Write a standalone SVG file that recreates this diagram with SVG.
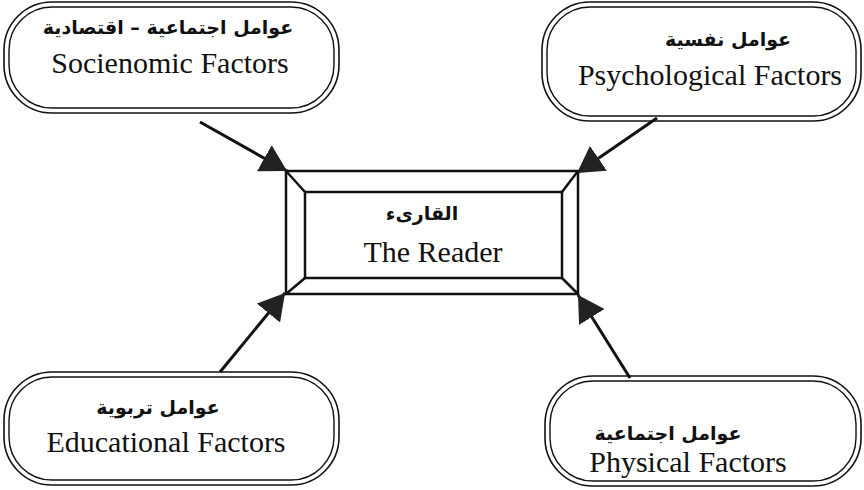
<svg xmlns="http://www.w3.org/2000/svg" width="864" height="490" viewBox="0 0 864 490">
<style>
.outer{fill:none;stroke:#111;stroke-width:1.6}
.inner{fill:none;stroke:#111;stroke-width:1.4}
.en{font-family:"Liberation Serif","Times New Roman",serif;font-size:30px;fill:#111;text-anchor:middle}
.ar{font-family:"DejaVu Sans","Noto Sans",sans-serif;font-size:19px;font-weight:bold;fill:#111;text-anchor:middle}
.conn{stroke:#111;stroke-width:3;fill:none}
.frame{fill:none;stroke:#111;stroke-width:2.5}
</style>
<defs>
<marker id="ah" markerUnits="userSpaceOnUse" markerWidth="30" markerHeight="32" refX="26" refY="15" orient="auto">
<path d="M0,0 L26,15 L0,30 Z" fill="#222"/>
</marker>
</defs>
<rect width="864" height="490" fill="#fff"/>
<g id="socioeconomic">
<rect class="outer" x="4" y="2" width="335" height="111" rx="48"/>
<rect class="inner" x="9" y="7" width="325" height="101" rx="43"/>
<text class="ar" x="168" y="34" direction="rtl">عوامل اجتماعية – اقتصادية</text>
<text class="en" x="170" y="73">Socienomic Factors</text>
</g>
<g id="psychological">
<rect class="outer" x="542" y="2" width="319" height="119" rx="48"/>
<rect class="inner" x="547" y="7" width="309" height="109" rx="43"/>
<text class="ar" x="728" y="46" direction="rtl">عوامل نفسية</text>
<text class="en" x="710" y="85">Psychological Factors</text>
</g>
<g id="reader">
<rect class="frame" x="286" y="171" width="292" height="123"/>
<rect class="frame" x="305" y="192" width="257" height="86"/>
<line class="frame" x1="286" y1="171" x2="305" y2="192"/>
<line class="frame" x1="578" y1="171" x2="562" y2="192"/>
<line class="frame" x1="286" y1="294" x2="305" y2="278"/>
<line class="frame" x1="578" y1="294" x2="562" y2="278"/>
<text class="ar" x="422" y="220" direction="rtl">القارىء</text>
<text class="en" x="433" y="262">The Reader</text>
</g>
<g id="educational">
<rect class="outer" x="4" y="372" width="335" height="113" rx="48"/>
<rect class="inner" x="9" y="377" width="325" height="103" rx="43"/>
<text class="ar" x="158" y="414" direction="rtl">عوامل تربوية</text>
<text class="en" x="166" y="452">Educational Factors</text>
</g>
<g id="physical">
<rect class="outer" x="545" y="376" width="316" height="110" rx="48"/>
<rect class="inner" x="550" y="381" width="306" height="100" rx="43"/>
<text class="ar" x="668" y="440" direction="rtl">عوامل اجتماعية</text>
<text class="en" x="688" y="472">Physical Factors</text>
</g>
<g id="connectors">
<line class="conn" x1="200" y1="122" x2="287" y2="171" marker-end="url(#ah)"/>
<line class="conn" x1="657" y1="118" x2="577" y2="173" marker-end="url(#ah)"/>
<line class="conn" x1="220" y1="372" x2="285" y2="293" marker-end="url(#ah)"/>
<line class="conn" x1="630" y1="378" x2="578" y2="295" marker-end="url(#ah)"/>
</g>
</svg>
